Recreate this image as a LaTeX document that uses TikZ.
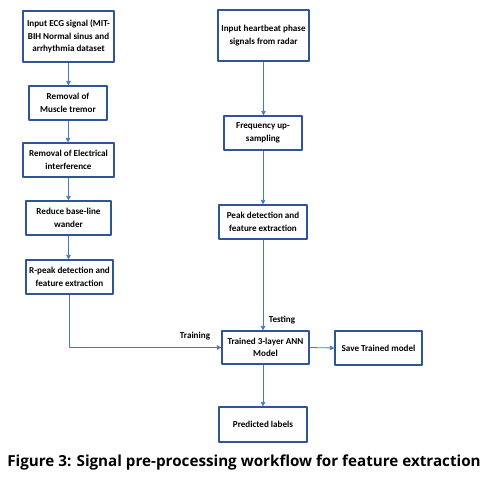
\documentclass[tikz,border=0pt]{standalone}
\usepackage{fontspec}
\setmainfont{Carlito}
\newfontfamily\capfont{Open Sans}
\usetikzlibrary{arrows.meta}
\definecolor{boxblue}{HTML}{2F5597}
\definecolor{lineblue}{HTML}{4A78C8}
\begin{document}
\begin{tikzpicture}[x=1pt,y=-1pt,font=\fontsize{9.1}{12.6}\selectfont\bfseries,line join=round,>={Triangle[width=4.5pt,length=4.5pt]}]
	\tikzset{blk/.style={draw=boxblue,line width=1.2pt,align=center,inner sep=0pt},
		flow/.style={lineblue,line width=0.8pt,->}}
	\useasboundingbox (0,0) rectangle (491,477);
	% left column
	\node[blk,minimum width=91pt,minimum height=51pt] (ecg) at (68.5,36.5) {Input ECG signal (MIT-\\BIH Normal sinus and\\arrhythmia dataset};
	\node[blk,minimum width=78pt,minimum height=34pt] (tremor) at (68,103) {Removal of\\Muscle tremor};
	\node[blk,minimum width=91pt,minimum height=34pt] (elec) at (68.5,160) {Removal of Electrical\\interference};
	\node[blk,minimum width=85pt,minimum height=34pt] (wander) at (68.5,218) {Reduce base-line\\wander};
	\node[blk,minimum width=87pt,minimum height=34pt] (rpeak) at (69.5,277) {R-peak detection and\\feature extraction};
	% right column
	\node[blk,minimum width=91pt,minimum height=51pt] (radar) at (263.5,35.5) {Input heartbeat phase\\signals from radar};
	\node[blk,minimum width=78pt,minimum height=34pt] (upsamp) at (263,133) {Frequency up-\\sampling};
	\node[blk,minimum width=88pt,minimum height=34pt] (peak) at (263,222) {Peak detection and\\feature extraction};
	% model
	\node[blk,minimum width=87pt,minimum height=33pt] (ann) at (265.5,347.5) {Trained 3-layer ANN\\Model};
	\node[blk,minimum width=87pt,minimum height=34pt] (save) at (378.5,348) {Save Trained model};
	\node[blk,minimum width=88pt,minimum height=35pt] (pred) at (263,424.5) {Predicted labels};
	\node (train) at (195,336) {Training};
	\node (test) at (282,320) {Testing};
	% arrows
	\draw[flow] (ecg.south) -- (ecg.south |- tremor.north);
	\draw[flow] (tremor.south) -- (tremor.south |- elec.north);
	\draw[flow] (elec.south) -- (elec.south |- wander.north);
	\draw[flow] (wander.south) -- (wander.south |- rpeak.north);
	\draw[flow] (rpeak.south) |- (ann.west);
	\draw[flow] (radar.south) -- (radar.south |- upsamp.north);
	\draw[flow] (upsamp.south) -- (upsamp.south |- peak.north);
	\draw[flow] (peak.south) -- (peak.south |- ann.north);
	\draw[flow] (ann.east) -- (save.west);
	\draw[flow] (ann.south -| pred.north) -- (pred.north);
	\node[font=\capfont\fontsize{15.2}{18}\selectfont\bfseries] (cap) at (244,463) {Figure 3: Signal pre-processing workflow for feature extraction};
\end{tikzpicture}
\end{document}
